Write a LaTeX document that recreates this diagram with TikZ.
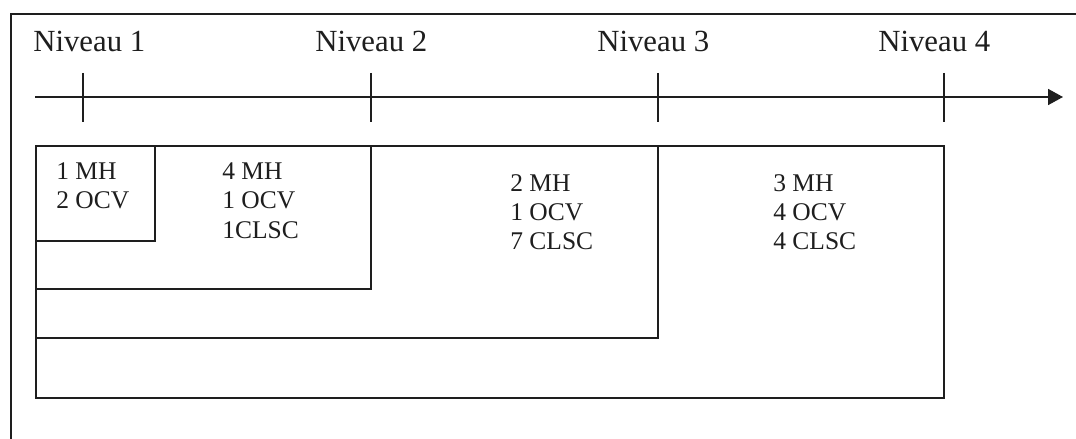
\documentclass[tikz,border=0pt]{standalone}
\usepackage{fontspec}
\setmainfont{Liberation Serif}
\usepackage{tikz}
\usetikzlibrary{arrows.meta}
\definecolor{ink}{HTML}{1E1E1E}

\begin{document}
\begin{tikzpicture}[
  x=0.02cm, y=-0.02cm,
  frame/.style={draw=ink, line width=1.3pt},
  tickmark/.style={draw=ink, line width=1pt},
  level/.style={font=\fontsize{17.5}{20}\selectfont, inner sep=0pt, anchor=base west, text=ink},
  count/.style={font=\fontsize{14.5}{16.6}\selectfont, align=left, inner sep=0pt, anchor=base west, text=ink},
  axis/.style={-{Triangle[length=3mm, width=3.2mm]}, draw=ink, line width=1pt}
]
\useasboundingbox (0,0) rectangle (1076,439);
\clip (0,0) rectangle (1076,439);
\fill[white] (0,0) rectangle (1076,439);
% outer frame, cut by the page
\draw[frame] (11,14) rectangle (1100,470);
% time axis
\coordinate (start) at (35,97);
\coordinate (end) at (1063,97);
\draw[axis] (start) -- (end);
\draw[tickmark] (83,73) -- (83,122);
\draw[tickmark] (371,73) -- (371,122);
\draw[tickmark] (658,73) -- (658,122);
\draw[tickmark] (944,73) -- (944,122);
\node[level] (niv1) at (33,52) {Niveau 1};
\node[level] (niv2) at (315,52) {Niveau 2};
\node[level] (niv3) at (597,52) {Niveau 3};
\node[level] (niv4) at (878,52) {Niveau 4};
% nested levels
\draw[frame] (36,146) rectangle (944,398);
\draw[frame] (36,146) rectangle (658,338);
\draw[frame] (36,146) rectangle (371,289);
\draw[frame] (36,146) rectangle (155,241);
% base anchor sits on the last line
\node[count] (grp1) at (56,209) {1 MH\\2 OCV};
\node[count] (grp2) at (222,238) {4 MH\\1 OCV\\1CLSC};
\node[count] (grp3) at (510,250) {2 MH\\1 OCV\\7 CLSC};
\node[count] (grp4) at (773,250) {3 MH\\4 OCV\\4 CLSC};
\end{tikzpicture}
\end{document}
